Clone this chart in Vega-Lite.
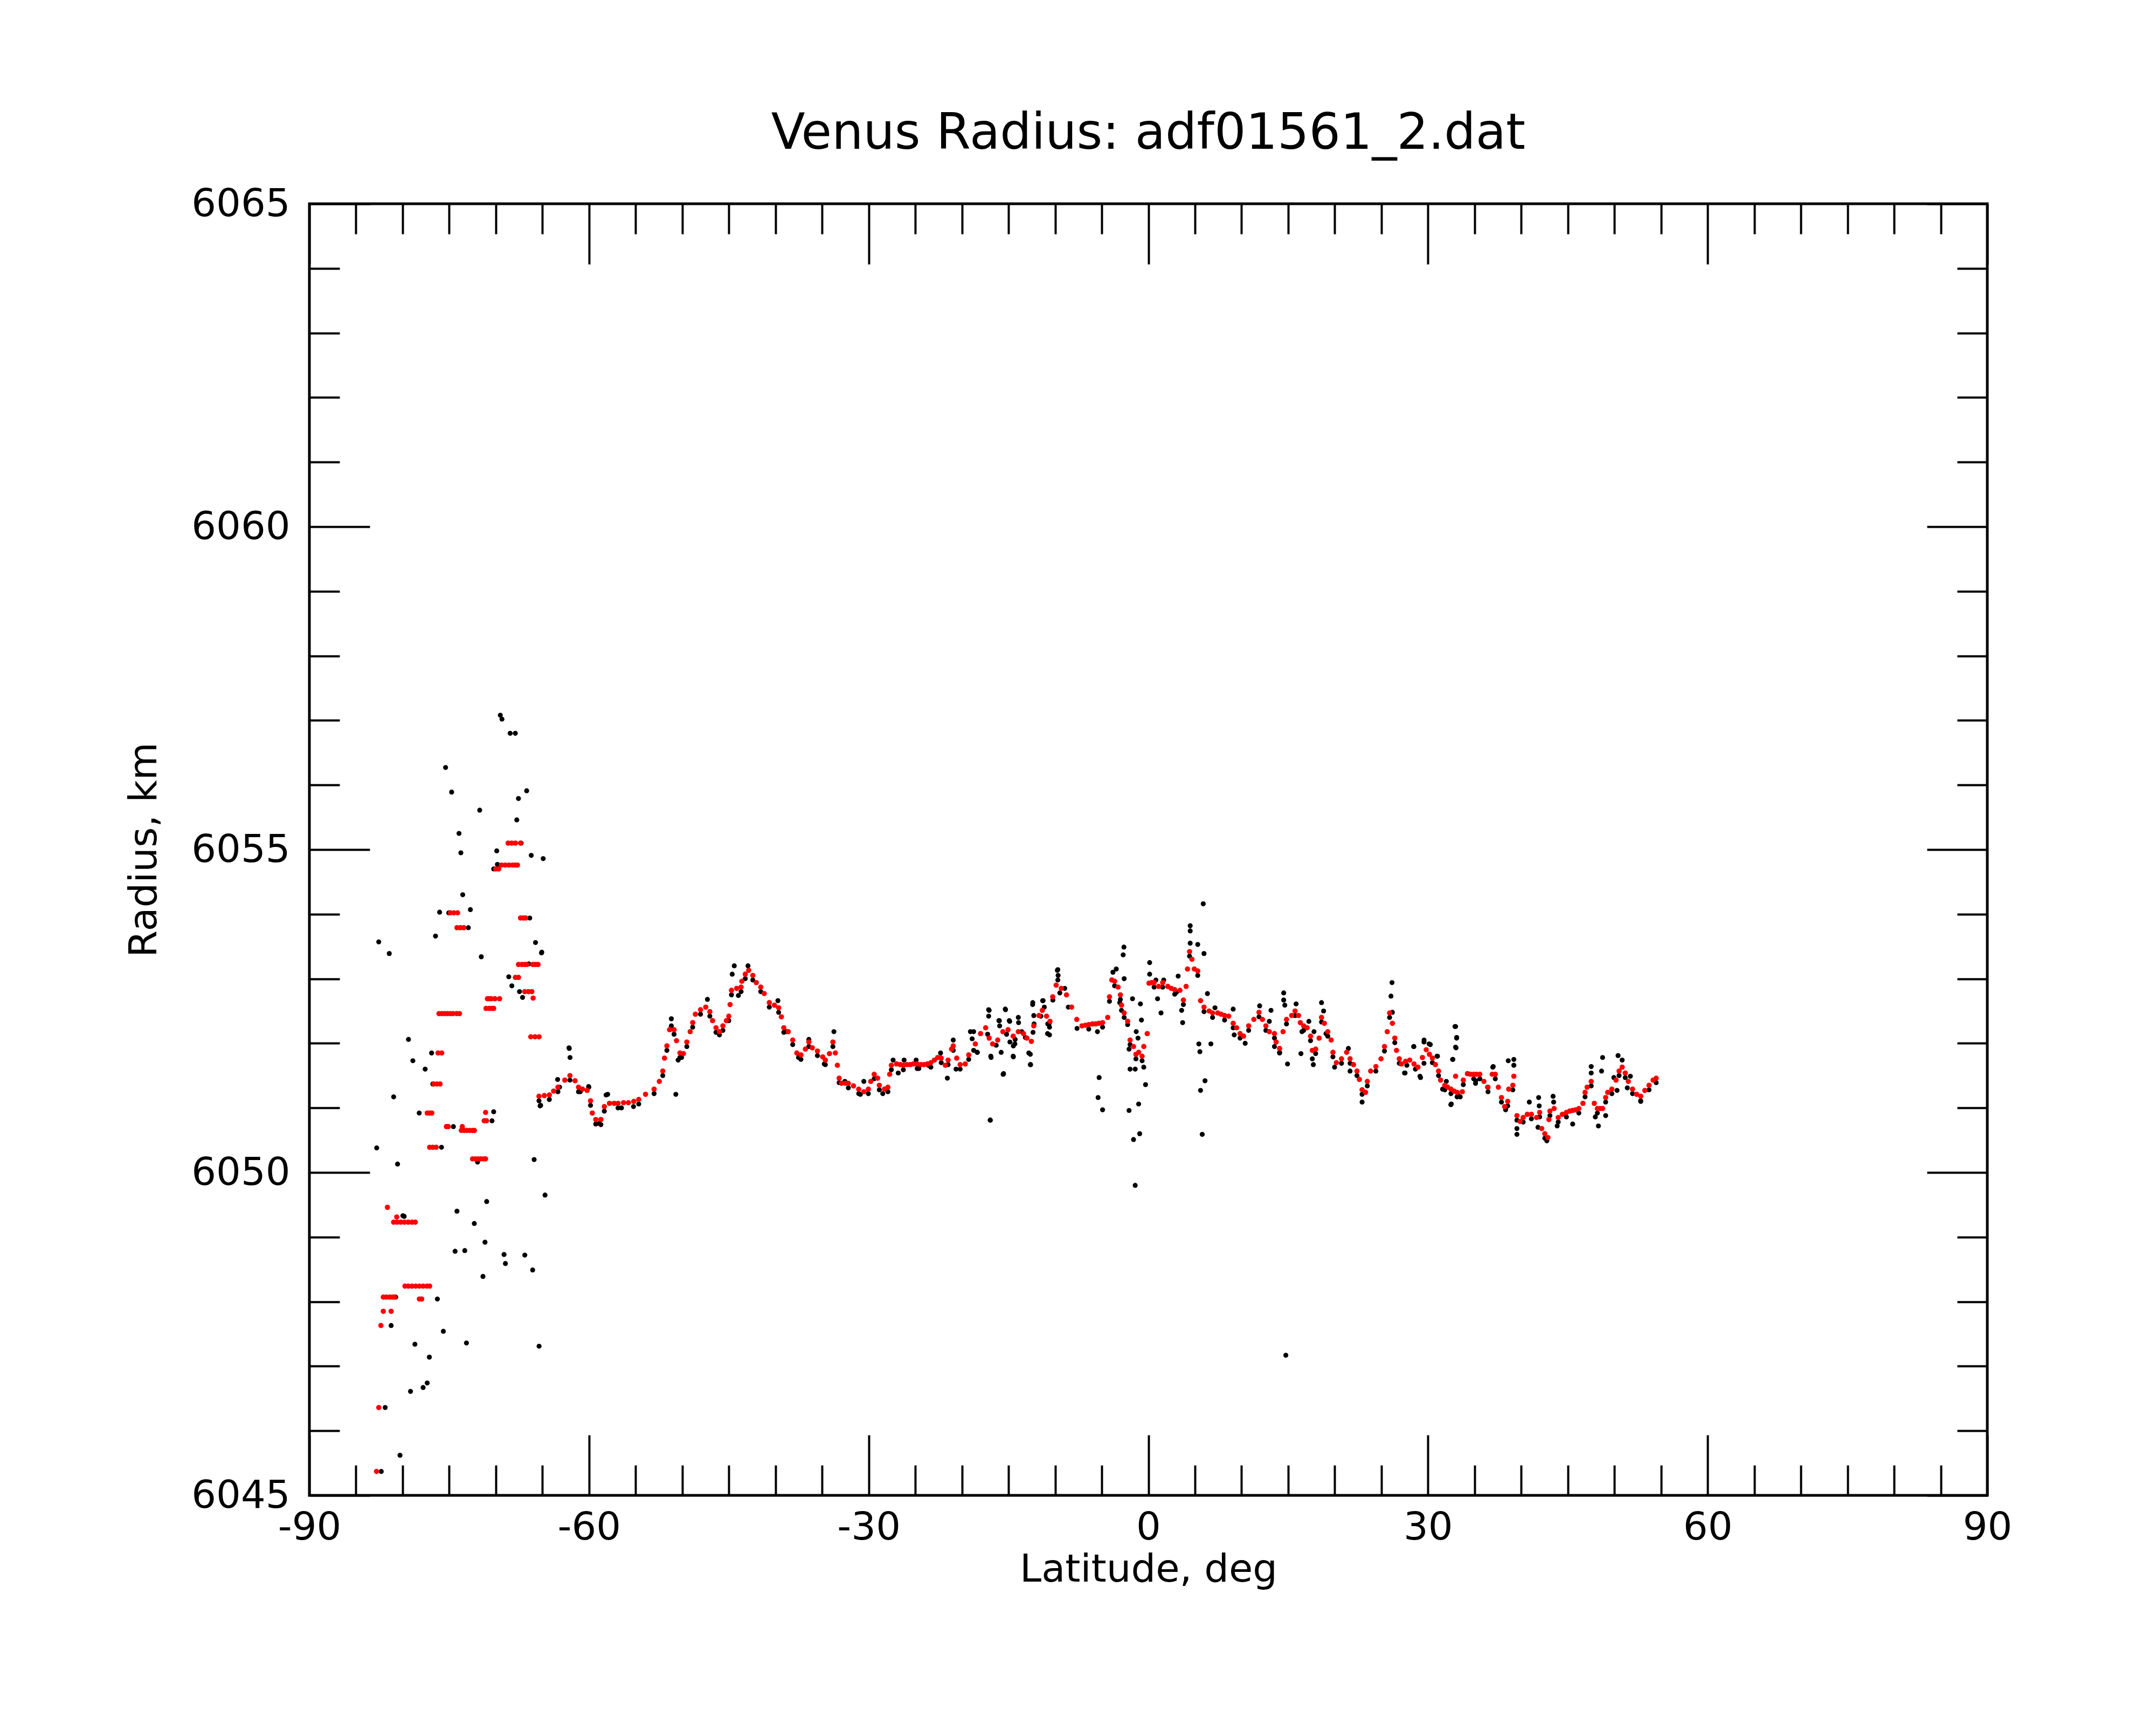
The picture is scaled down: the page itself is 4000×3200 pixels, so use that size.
{
 "$schema": "https://vega.github.io/schema/vega-lite/v6.json",
 "width": 3113,
 "height": 2396,
 "autosize": "none",
 "padding": {"left": 574, "top": 378, "right": 313, "bottom": 426},
 "background": "white",
 "config": {"view": {"stroke": "black", "strokeWidth": 5}, "font": "DejaVu Sans"},
 "title": {"text": "Venus Radius: adf01561_2.dat", "fontSize": 92, "fontWeight": "normal", "font": "DejaVu Sans", "color": "black", "offset": 47, "anchor": "middle"},
 "datasets": {
  "raw": [
   {"lat": -69.52, "r": 6057.08}, {"lat": -69.34, "r": 6057.02}, {"lat": -68.46, "r": 6056.8}, {"lat": -67.91, "r": 6056.8},
   {"lat": -75.39, "r": 6056.27}, {"lat": -74.74, "r": 6055.89}, {"lat": -66.69, "r": 6055.91}, {"lat": -67.57, "r": 6055.79},
   {"lat": -71.73, "r": 6055.61}, {"lat": -67.75, "r": 6055.46}, {"lat": -73.95, "r": 6055.25}, {"lat": -73.75, "r": 6054.95},
   {"lat": -69.9, "r": 6054.98}, {"lat": -66.2, "r": 6054.91}, {"lat": -64.92, "r": 6054.86}, {"lat": -70.23, "r": 6054.7},
   {"lat": -69.83, "r": 6054.77}, {"lat": -73.55, "r": 6054.3}, {"lat": -72.73, "r": 6054.07}, {"lat": -76.03, "r": 6054.03},
   {"lat": -75.05, "r": 6054.02}, {"lat": -72.95, "r": 6053.79}, {"lat": -66.36, "r": 6053.94}, {"lat": -76.47, "r": 6053.66},
   {"lat": -82.56, "r": 6053.57}, {"lat": -81.43, "r": 6053.39}, {"lat": -71.56, "r": 6053.34}, {"lat": -65.74, "r": 6053.56},
   {"lat": -65.1, "r": 6053.4}, {"lat": -68.61, "r": 6053.03}, {"lat": -68.28, "r": 6052.89}, {"lat": -67.46, "r": 6052.8},
   {"lat": -67.13, "r": 6052.71}, {"lat": -66.47, "r": 6053.23}, {"lat": -70.72, "r": 6052.69}, {"lat": -79.37, "r": 6052.06},
   {"lat": -78.9, "r": 6051.73}, {"lat": -77.58, "r": 6051.6}, {"lat": -76.89, "r": 6051.85}, {"lat": -76.76, "r": 6051.37},
   {"lat": -80.96, "r": 6051.17}, {"lat": -78.22, "r": 6050.92}, {"lat": -74.55, "r": 6050.71}, {"lat": -75.83, "r": 6050.39},
   {"lat": -82.78, "r": 6050.38}, {"lat": -80.54, "r": 6050.13}, {"lat": -71.96, "r": 6050.16}, {"lat": -70.23, "r": 6050.94},
   {"lat": -70.41, "r": 6050.8}, {"lat": -65.89, "r": 6050.2}, {"lat": -64.72, "r": 6049.65}, {"lat": -70.98, "r": 6049.55},
   {"lat": -74.17, "r": 6049.4}, {"lat": -72.31, "r": 6049.21}, {"lat": -79.83, "r": 6049.32}, {"lat": -79.97, "r": 6049.33},
   {"lat": -71.16, "r": 6048.92}, {"lat": -74.37, "r": 6048.78}, {"lat": -73.33, "r": 6048.79}, {"lat": -69.12, "r": 6048.73},
   {"lat": -68.97, "r": 6048.59}, {"lat": -66.89, "r": 6048.72}, {"lat": -66.05, "r": 6048.49}, {"lat": -71.38, "r": 6048.39},
   {"lat": -80.74, "r": 6048.07}, {"lat": -76.27, "r": 6048.04}, {"lat": -81.23, "r": 6047.63}, {"lat": -75.63, "r": 6047.54},
   {"lat": -78.68, "r": 6047.34}, {"lat": -73.15, "r": 6047.36}, {"lat": -65.36, "r": 6047.31}, {"lat": -77.13, "r": 6047.14},
   {"lat": -77.36, "r": 6046.74}, {"lat": -77.8, "r": 6046.67}, {"lat": -79.15, "r": 6046.61}, {"lat": -81.87, "r": 6046.36},
   {"lat": -80.28, "r": 6045.62}, {"lat": -82.29, "r": 6045.37}, {"lat": -67.28, "r": 6055.1}, {"lat": -70.7, "r": 6052.69},
   {"lat": -62.15, "r": 6051.93}, {"lat": -62.04, "r": 6051.78}, {"lat": -65.25, "r": 6051.03}, {"lat": -63.37, "r": 6051.44},
   {"lat": -60.05, "r": 6051.33}, {"lat": -58.9, "r": 6050.76}, {"lat": -58.17, "r": 6051.2}, {"lat": -60.94, "r": 6051.25},
   {"lat": -65.07, "r": 6053.41}, {"lat": -62.12, "r": 6051.92}, {"lat": -63.16, "r": 6051.32}, {"lat": -64.26, "r": 6051.13},
   {"lat": -65.19, "r": 6051.04}, {"lat": -60.02, "r": 6051.32}, {"lat": -58.73, "r": 6050.74}, {"lat": -58.0, "r": 6051.21},
   {"lat": -56.52, "r": 6051.0}, {"lat": -55.23, "r": 6051.02}, {"lat": -50.69, "r": 6051.21}, {"lat": -51.17, "r": 6052.38},
   {"lat": -51.17, "r": 6052.27}, {"lat": -50.44, "r": 6051.74}, {"lat": -50.07, "r": 6051.78}, {"lat": -47.3, "r": 6052.68},
   {"lat": -46.01, "r": 6052.13}, {"lat": -44.42, "r": 6053.2}, {"lat": -44.64, "r": 6053.07}, {"lat": -42.95, "r": 6053.2},
   {"lat": -43.98, "r": 6052.74}, {"lat": -39.74, "r": 6052.66}, {"lat": -38.82, "r": 6052.18}, {"lat": -37.53, "r": 6051.78},
   {"lat": -36.42, "r": 6052.06}, {"lat": -34.76, "r": 6051.68}, {"lat": -33.73, "r": 6052.18}, {"lat": -32.55, "r": 6051.41},
   {"lat": -30.89, "r": 6051.21}, {"lat": -30.52, "r": 6051.41}, {"lat": -28.49, "r": 6051.22}, {"lat": -27.38, "r": 6051.74},
   {"lat": -26.83, "r": 6051.54}, {"lat": -26.2, "r": 6051.74}, {"lat": -24.91, "r": 6051.74}, {"lat": -24.62, "r": 6051.61},
   {"lat": -23.59, "r": 6051.66}, {"lat": -22.29, "r": 6051.85}, {"lat": -21.56, "r": 6051.46}, {"lat": -20.93, "r": 6052.05},
   {"lat": -20.63, "r": 6051.6}, {"lat": -19.09, "r": 6052.18}, {"lat": -18.9, "r": 6052.07}, {"lat": -18.35, "r": 6051.86},
   {"lat": -17.13, "r": 6052.52}, {"lat": -17.13, "r": 6052.42}, {"lat": -16.95, "r": 6050.81}, {"lat": -16.87, "r": 6051.78},
   {"lat": -16.03, "r": 6052.35}, {"lat": -15.95, "r": 6052.27}, {"lat": -15.58, "r": 6051.52}, {"lat": -15.32, "r": 6052.52},
   {"lat": -14.92, "r": 6052.35}, {"lat": -14.85, "r": 6052.02}, {"lat": -14.48, "r": 6051.96}, {"lat": -14.48, "r": 6051.79},
   {"lat": -13.92, "r": 6052.32}, {"lat": -12.82, "r": 6051.85}, {"lat": -12.63, "r": 6051.67}, {"lat": -12.41, "r": 6052.6},
   {"lat": -12.26, "r": 6052.3}, {"lat": -11.34, "r": 6052.66}, {"lat": -11.16, "r": 6052.56}, {"lat": -10.79, "r": 6052.3},
   {"lat": -10.6, "r": 6052.13}, {"lat": -9.76, "r": 6053.13}, {"lat": -9.68, "r": 6053.05},
   {"lat": -18.74, "r": 6052.18}, {"lat": -18.74, "r": 6051.89}, {"lat": -17.08, "r": 6052.51}, {"lat": -16.97, "r": 6050.81},
   {"lat": -16.9, "r": 6051.8}, {"lat": -15.98, "r": 6052.35}, {"lat": -15.79, "r": 6051.86}, {"lat": -15.53, "r": 6051.53},
   {"lat": -15.35, "r": 6052.53}, {"lat": -14.87, "r": 6052.34}, {"lat": -14.5, "r": 6051.8}, {"lat": -14.32, "r": 6051.99},
   {"lat": -13.95, "r": 6052.4}, {"lat": -13.58, "r": 6052.18}, {"lat": -12.66, "r": 6051.83}, {"lat": -12.66, "r": 6051.67},
   {"lat": -12.4, "r": 6052.63}, {"lat": -12.29, "r": 6052.43}, {"lat": -11.29, "r": 6052.66}, {"lat": -10.81, "r": 6052.15},
   {"lat": -10.63, "r": 6052.31}, {"lat": -9.71, "r": 6053.14}, {"lat": -9.71, "r": 6052.98}, {"lat": -8.97, "r": 6052.85},
   {"lat": -5.46, "r": 6052.18}, {"lat": -5.28, "r": 6051.47}, {"lat": -5.39, "r": 6051.16}, {"lat": -4.91, "r": 6050.97},
   {"lat": -3.8, "r": 6053.1}, {"lat": -3.44, "r": 6053.15}, {"lat": -2.62, "r": 6053.49}, {"lat": -2.7, "r": 6053.37},
   {"lat": -2.59, "r": 6053.0}, {"lat": -3.07, "r": 6052.63}, {"lat": -2.88, "r": 6052.51}, {"lat": -2.22, "r": 6052.29},
   {"lat": -1.7, "r": 6052.69}, {"lat": -0.85, "r": 6052.61}, {"lat": -0.74, "r": 6052.36}, {"lat": -1.3, "r": 6052.18},
   {"lat": -1.11, "r": 6052.08}, {"lat": -2.07, "r": 6051.91}, {"lat": -1.96, "r": 6051.6}, {"lat": -1.41, "r": 6051.6},
   {"lat": -0.49, "r": 6051.63}, {"lat": -0.3, "r": 6051.36}, {"lat": -2.07, "r": 6050.96}, {"lat": -1.04, "r": 6051.06},
   {"lat": -0.93, "r": 6050.6}, {"lat": -1.59, "r": 6050.51}, {"lat": -1.41, "r": 6049.8}, {"lat": 0.14, "r": 6053.25},
   {"lat": 0.14, "r": 6053.07}, {"lat": 0.81, "r": 6052.98}, {"lat": 0.99, "r": 6052.69}, {"lat": 1.36, "r": 6052.47},
   {"lat": 1.65, "r": 6052.98}, {"lat": 3.02, "r": 6052.79}, {"lat": 3.2, "r": 6053.04}, {"lat": 3.57, "r": 6052.51},
   {"lat": 3.68, "r": 6052.32}, {"lat": 4.49, "r": 6053.82}, {"lat": 4.49, "r": 6053.74}, {"lat": 4.49, "r": 6053.55},
   {"lat": 5.3, "r": 6053.53}, {"lat": 5.89, "r": 6054.16}, {"lat": 5.97, "r": 6053.39}, {"lat": 5.42, "r": 6051.99},
   {"lat": 5.53, "r": 6051.87}, {"lat": 5.6, "r": 6051.27}, {"lat": 6.08, "r": 6051.42}, {"lat": 5.78, "r": 6050.59},
   {"lat": 6.34, "r": 6052.77}, {"lat": 6.71, "r": 6051.99}, {"lat": 7.15, "r": 6052.55}, {"lat": 9.1, "r": 6052.53},
   {"lat": 9.21, "r": 6052.13}, {"lat": 10.39, "r": 6052.0}, {"lat": 11.94, "r": 6052.58}, {"lat": 13.16, "r": 6052.51},
   {"lat": 12.98, "r": 6052.34}, {"lat": 13.53, "r": 6051.95}, {"lat": 14.08, "r": 6051.86}, {"lat": 14.52, "r": 6052.78},
   {"lat": 14.52, "r": 6052.67}, {"lat": 14.64, "r": 6052.59}, {"lat": 14.93, "r": 6051.68}, {"lat": 15.85, "r": 6052.61},
   {"lat": 16.37, "r": 6051.84}, {"lat": 16.48, "r": 6052.18}, {"lat": 17.22, "r": 6052.34}, {"lat": 17.59, "r": 6051.76},
   {"lat": 17.7, "r": 6051.67}, {"lat": 17.77, "r": 6052.18}, {"lat": 18.58, "r": 6052.63}, {"lat": 18.8, "r": 6052.5},
   {"lat": 19.06, "r": 6052.15}, {"lat": 19.98, "r": 6051.63}, {"lat": 21.46, "r": 6051.92}, {"lat": 21.64, "r": 6051.57},
   {"lat": 22.93, "r": 6051.09}, {"lat": 26.14, "r": 6052.94}, {"lat": 26.03, "r": 6052.73}, {"lat": 26.18, "r": 6052.48},
   {"lat": 27.54, "r": 6051.54}, {"lat": 28.47, "r": 6051.95}, {"lat": 29.57, "r": 6052.02}, {"lat": 30.12, "r": 6051.99},
   {"lat": 29.2, "r": 6051.47}, {"lat": 30.97, "r": 6051.8}, {"lat": 31.97, "r": 6051.41}, {"lat": 32.45, "r": 6051.05},
   {"lat": 32.67, "r": 6051.75}, {"lat": 32.96, "r": 6052.26}, {"lat": 33.07, "r": 6052.08}, {"lat": 32.96, "r": 6051.94},
   {"lat": 33.26, "r": 6051.19}, {"lat": 35.1, "r": 6051.38}, {"lat": 36.39, "r": 6051.32}, {"lat": 36.95, "r": 6051.63},
   {"lat": 38.61, "r": 6051.73}, {"lat": 14.75, "r": 6047.17},
   {"lat": 28.48, "r": 6051.95}, {"lat": 29.58, "r": 6052.05}, {"lat": 30.25, "r": 6051.98}, {"lat": 31.02, "r": 6051.8},
   {"lat": 27.48, "r": 6051.54}, {"lat": 29.14, "r": 6051.49}, {"lat": 32.9, "r": 6052.26}, {"lat": 33.08, "r": 6052.09},
   {"lat": 33.01, "r": 6051.93}, {"lat": 32.64, "r": 6051.75}, {"lat": 32.5, "r": 6051.06}, {"lat": 31.57, "r": 6051.29},
   {"lat": 33.46, "r": 6051.17}, {"lat": 35.12, "r": 6051.42}, {"lat": 37.0, "r": 6051.64}, {"lat": 39.21, "r": 6051.75},
   {"lat": 39.21, "r": 6051.66}, {"lat": 38.33, "r": 6050.97}, {"lat": 39.54, "r": 6050.59}, {"lat": 39.54, "r": 6050.68},
   {"lat": 40.87, "r": 6051.09}, {"lat": 41.87, "r": 6051.16}, {"lat": 41.93, "r": 6051.03}, {"lat": 41.8, "r": 6050.7},
   {"lat": 42.75, "r": 6050.49}, {"lat": 43.42, "r": 6051.18}, {"lat": 43.48, "r": 6051.09}, {"lat": 43.86, "r": 6050.72},
   {"lat": 45.52, "r": 6050.75}, {"lat": 47.51, "r": 6051.64}, {"lat": 47.51, "r": 6051.54}, {"lat": 48.73, "r": 6051.78},
   {"lat": 48.62, "r": 6051.57}, {"lat": 47.95, "r": 6050.86}, {"lat": 48.28, "r": 6050.72}, {"lat": 49.06, "r": 6050.88},
   {"lat": 50.39, "r": 6051.81}, {"lat": 50.83, "r": 6051.74}, {"lat": 49.94, "r": 6051.47}, {"lat": 50.28, "r": 6051.27},
   {"lat": 51.38, "r": 6051.31}, {"lat": 51.71, "r": 6051.49}, {"lat": 52.82, "r": 6051.1},
   {"lat": -65.37, "r": 6051.11}, {"lat": -63.34, "r": 6051.25}, {"lat": -62.05, "r": 6051.43}, {"lat": -61.13, "r": 6051.25},
   {"lat": -59.84, "r": 6051.04}, {"lat": -59.28, "r": 6050.75}, {"lat": -58.36, "r": 6050.95}, {"lat": -56.89, "r": 6051.0},
   {"lat": -54.67, "r": 6051.06}, {"lat": -53.02, "r": 6051.22}, {"lat": -52.09, "r": 6051.5}, {"lat": -51.65, "r": 6051.89},
   {"lat": -50.88, "r": 6052.14}, {"lat": -50.25, "r": 6051.78}, {"lat": -49.51, "r": 6051.95}, {"lat": -48.88, "r": 6052.25},
   {"lat": -48.04, "r": 6052.45}, {"lat": -47.04, "r": 6052.42}, {"lat": -46.38, "r": 6052.17}, {"lat": -45.64, "r": 6052.2},
   {"lat": -45.01, "r": 6052.35}, {"lat": -44.72, "r": 6052.75}, {"lat": -43.69, "r": 6052.8}, {"lat": -43.24, "r": 6053.0},
   {"lat": -42.43, "r": 6052.98}, {"lat": -41.58, "r": 6052.8}, {"lat": -40.66, "r": 6052.56}, {"lat": -39.66, "r": 6052.48},
   {"lat": -39.11, "r": 6052.17}, {"lat": -38.15, "r": 6051.98}, {"lat": -37.27, "r": 6051.75}, {"lat": -36.42, "r": 6051.95},
   {"lat": -35.5, "r": 6051.81}, {"lat": -34.65, "r": 6051.67}, {"lat": -33.84, "r": 6051.95}, {"lat": -33.17, "r": 6051.39},
   {"lat": -32.18, "r": 6051.31}, {"lat": -31.07, "r": 6051.22}, {"lat": -30.04, "r": 6051.22}, {"lat": -29.41, "r": 6051.45},
   {"lat": -28.86, "r": 6051.28}, {"lat": -27.94, "r": 6051.25}, {"lat": -27.57, "r": 6051.59}, {"lat": -26.28, "r": 6051.59},
   {"lat": -24.8, "r": 6051.61}, {"lat": -23.33, "r": 6051.63}, {"lat": -22.22, "r": 6051.7}, {"lat": -21.48, "r": 6051.67},
   {"lat": -20.93, "r": 6051.89}, {"lat": -20.19, "r": 6051.6}, {"lat": -19.27, "r": 6051.75}, {"lat": -18.35, "r": 6051.86},
   {"lat": -17.24, "r": 6052.14}, {"lat": -16.32, "r": 6051.97}, {"lat": -15.21, "r": 6052.14}, {"lat": -14.29, "r": 6052.06},
   {"lat": -13.19, "r": 6052.09}, {"lat": -12.37, "r": 6052.17}, {"lat": -11.53, "r": 6052.42}, {"lat": -10.6, "r": 6052.25},
   {"lat": -10.24, "r": 6052.67}, {"lat": -9.5, "r": 6052.78}, {"lat": -8.58, "r": 6052.56}, {"lat": -7.65, "r": 6052.23},
   {"lat": -6.39, "r": 6052.22}, {"lat": -4.91, "r": 6052.25}, {"lat": -4.17, "r": 6052.65}, {"lat": -3.62, "r": 6052.89},
   {"lat": -3.0, "r": 6052.68}, {"lat": -2.59, "r": 6052.4}, {"lat": -1.96, "r": 6051.98}, {"lat": -1.33, "r": 6051.76},
   {"lat": -0.67, "r": 6051.73}, {"lat": 0.62, "r": 6052.87}, {"lat": 1.54, "r": 6052.87}, {"lat": 2.83, "r": 6052.76},
   {"lat": 3.76, "r": 6052.6}, {"lat": 4.42, "r": 6053.35}, {"lat": 5.3, "r": 6053.05}, {"lat": 5.97, "r": 6052.49},
   {"lat": 6.89, "r": 6052.4}, {"lat": 8.18, "r": 6052.36}, {"lat": 9.1, "r": 6052.24}, {"lat": 9.84, "r": 6052.08},
   {"lat": 10.76, "r": 6052.2}, {"lat": 11.87, "r": 6052.41}, {"lat": 12.61, "r": 6052.2}, {"lat": 13.53, "r": 6052.08},
   {"lat": 14.08, "r": 6051.85}, {"lat": 14.82, "r": 6052.3}, {"lat": 15.74, "r": 6052.43}, {"lat": 16.66, "r": 6052.2},
   {"lat": 17.4, "r": 6052.04}, {"lat": 17.95, "r": 6051.84}, {"lat": 18.58, "r": 6052.33}, {"lat": 19.25, "r": 6052.11},
   {"lat": 19.8, "r": 6051.79}, {"lat": 20.72, "r": 6051.69}, {"lat": 21.64, "r": 6051.69}, {"lat": 22.38, "r": 6051.5},
   {"lat": 22.93, "r": 6051.21}, {"lat": 23.49, "r": 6051.34}, {"lat": 24.41, "r": 6051.57}, {"lat": 25.33, "r": 6051.88},
   {"lat": 25.88, "r": 6052.4}, {"lat": 26.44, "r": 6052.01}, {"lat": 26.92, "r": 6051.69}, {"lat": 27.73, "r": 6051.66},
   {"lat": 28.65, "r": 6051.6}, {"lat": 29.57, "r": 6051.69}, {"lat": 30.47, "r": 6051.7}, {"lat": 31.13, "r": 6051.5},
   {"lat": 31.8, "r": 6051.28}, {"lat": 32.46, "r": 6051.22}, {"lat": 33.12, "r": 6051.17}, {"lat": 33.79, "r": 6051.36},
   {"lat": 34.9, "r": 6051.45}, {"lat": 35.56, "r": 6051.45}, {"lat": 36.44, "r": 6051.25}, {"lat": 37.22, "r": 6051.45},
   {"lat": 37.88, "r": 6051.09}, {"lat": 38.55, "r": 6051.03}, {"lat": 39.1, "r": 6051.28}, {"lat": 39.54, "r": 6050.81},
   {"lat": 40.21, "r": 6050.78}, {"lat": 41.09, "r": 6050.83}, {"lat": 41.98, "r": 6050.86}, {"lat": 42.53, "r": 6050.53},
   {"lat": 43.08, "r": 6050.88}, {"lat": 43.97, "r": 6050.78}, {"lat": 44.85, "r": 6050.86}, {"lat": 46.18, "r": 6050.92},
   {"lat": 46.85, "r": 6051.17}, {"lat": 47.51, "r": 6051.34}, {"lat": 48.17, "r": 6050.92}, {"lat": 49.06, "r": 6051.09},
   {"lat": 49.72, "r": 6051.22}, {"lat": 50.5, "r": 6051.5}, {"lat": 51.16, "r": 6051.47}, {"lat": 51.94, "r": 6051.22},
   {"lat": 52.82, "r": 6051.11}, {"lat": 53.71, "r": 6051.28}, {"lat": 54.48, "r": 6051.39}
  ],
  "smooth": [
   {"lat": -82.8, "r": 6045.37}, {"lat": -82.56, "r": 6046.36}, {"lat": -82.33, "r": 6047.63}, {"lat": -82.07, "r": 6047.85},
   {"lat": -82.07, "r": 6048.07}, {"lat": -81.75, "r": 6048.07}, {"lat": -81.4, "r": 6048.07}, {"lat": -81.1, "r": 6048.07},
   {"lat": -80.85, "r": 6048.07}, {"lat": -81.23, "r": 6047.85}, {"lat": -81.63, "r": 6049.46}, {"lat": -80.96, "r": 6049.23},
   {"lat": -80.63, "r": 6049.31}, {"lat": -80.6, "r": 6049.23}, {"lat": -80.2, "r": 6049.23}, {"lat": -79.8, "r": 6049.23},
   {"lat": -79.4, "r": 6049.23}, {"lat": -79.0, "r": 6049.23}, {"lat": -78.64, "r": 6049.23}, {"lat": -79.75, "r": 6048.24},
   {"lat": -79.4, "r": 6048.24}, {"lat": -79.0, "r": 6048.24}, {"lat": -78.6, "r": 6048.24}, {"lat": -78.2, "r": 6048.24},
   {"lat": -77.8, "r": 6048.24}, {"lat": -77.4, "r": 6048.24}, {"lat": -77.1, "r": 6048.24}, {"lat": -78.2, "r": 6048.04},
   {"lat": -77.95, "r": 6048.04}, {"lat": -77.36, "r": 6050.92}, {"lat": -77.1, "r": 6050.92}, {"lat": -76.87, "r": 6050.92},
   {"lat": -77.1, "r": 6050.39}, {"lat": -76.75, "r": 6050.39}, {"lat": -76.4, "r": 6050.39}, {"lat": -76.65, "r": 6051.37},
   {"lat": -76.3, "r": 6051.37}, {"lat": -75.98, "r": 6051.37}, {"lat": -76.2, "r": 6051.85}, {"lat": -75.8, "r": 6051.85},
   {"lat": -76.1, "r": 6052.46}, {"lat": -75.8, "r": 6052.46}, {"lat": -75.5, "r": 6052.46}, {"lat": -75.2, "r": 6052.46},
   {"lat": -74.9, "r": 6052.46}, {"lat": -74.6, "r": 6052.46}, {"lat": -74.2, "r": 6052.46}, {"lat": -73.9, "r": 6052.46},
   {"lat": -75.3, "r": 6050.71}, {"lat": -75.1, "r": 6050.71}, {"lat": -74.88, "r": 6054.02}, {"lat": -74.5, "r": 6054.02},
   {"lat": -74.1, "r": 6054.02}, {"lat": -74.17, "r": 6053.79}, {"lat": -73.8, "r": 6053.79}, {"lat": -73.44, "r": 6053.79},
   {"lat": -73.7, "r": 6050.65}, {"lat": -73.4, "r": 6050.65}, {"lat": -73.1, "r": 6050.65}, {"lat": -72.8, "r": 6050.65},
   {"lat": -72.5, "r": 6050.65}, {"lat": -72.3, "r": 6050.65}, {"lat": -73.6, "r": 6050.71}, {"lat": -72.5, "r": 6050.21},
   {"lat": -72.2, "r": 6050.21}, {"lat": -71.9, "r": 6050.21}, {"lat": -71.6, "r": 6050.21}, {"lat": -71.3, "r": 6050.21},
   {"lat": -71.1, "r": 6050.21}, {"lat": -71.25, "r": 6050.8}, {"lat": -71.0, "r": 6050.8}, {"lat": -71.1, "r": 6050.93},
   {"lat": -71.05, "r": 6052.54}, {"lat": -70.7, "r": 6052.54}, {"lat": -70.4, "r": 6052.54}, {"lat": -70.23, "r": 6052.54},
   {"lat": -70.9, "r": 6052.69}, {"lat": -70.5, "r": 6052.69}, {"lat": -70.1, "r": 6052.69}, {"lat": -69.6, "r": 6052.69},
   {"lat": -70.01, "r": 6054.7}, {"lat": -69.7, "r": 6054.7}, {"lat": -69.4, "r": 6054.76}, {"lat": -69.0, "r": 6054.76},
   {"lat": -68.6, "r": 6054.76}, {"lat": -68.2, "r": 6054.76}, {"lat": -67.9, "r": 6054.76}, {"lat": -67.68, "r": 6054.76},
   {"lat": -68.68, "r": 6055.1}, {"lat": -68.3, "r": 6055.1}, {"lat": -67.9, "r": 6055.1}, {"lat": -67.35, "r": 6055.1},
   {"lat": -67.9, "r": 6053.02}, {"lat": -67.57, "r": 6053.02}, {"lat": -67.57, "r": 6053.22}, {"lat": -67.2, "r": 6053.22},
   {"lat": -66.9, "r": 6053.22}, {"lat": -66.69, "r": 6053.22}, {"lat": -66.03, "r": 6053.22}, {"lat": -65.75, "r": 6053.22},
   {"lat": -65.47, "r": 6053.22}, {"lat": -67.35, "r": 6053.94}, {"lat": -67.05, "r": 6053.94}, {"lat": -66.8, "r": 6053.94},
   {"lat": -66.9, "r": 6052.8}, {"lat": -66.5, "r": 6052.8}, {"lat": -66.14, "r": 6052.8}, {"lat": -66.0, "r": 6052.7},
   {"lat": -66.25, "r": 6052.1}, {"lat": -65.8, "r": 6052.1}, {"lat": -65.36, "r": 6052.1},
   {"lat": -65.37, "r": 6051.18}, {"lat": -64.8, "r": 6051.19}, {"lat": -64.26, "r": 6051.2}, {"lat": -63.8, "r": 6051.26},
   {"lat": -63.34, "r": 6051.32}, {"lat": -62.6, "r": 6051.43}, {"lat": -62.05, "r": 6051.5}, {"lat": -61.5, "r": 6051.42},
   {"lat": -61.13, "r": 6051.32}, {"lat": -60.7, "r": 6051.29}, {"lat": -60.21, "r": 6051.27}, {"lat": -59.84, "r": 6051.11},
   {"lat": -59.65, "r": 6050.92}, {"lat": -59.28, "r": 6050.82}, {"lat": -58.73, "r": 6050.82}, {"lat": -58.36, "r": 6051.02},
   {"lat": -57.81, "r": 6051.07}, {"lat": -57.3, "r": 6051.07}, {"lat": -56.89, "r": 6051.07}, {"lat": -56.3, "r": 6051.08},
   {"lat": -55.78, "r": 6051.08}, {"lat": -55.2, "r": 6051.1}, {"lat": -54.67, "r": 6051.13}, {"lat": -53.94, "r": 6051.21},
   {"lat": -53.02, "r": 6051.29}, {"lat": -52.46, "r": 6051.41}, {"lat": -52.09, "r": 6051.57}, {"lat": -51.91, "r": 6051.77},
   {"lat": -51.65, "r": 6051.96}, {"lat": -51.36, "r": 6052.21}, {"lat": -50.88, "r": 6052.21}, {"lat": -50.62, "r": 6052.04},
   {"lat": -50.25, "r": 6051.85}, {"lat": -49.88, "r": 6051.84}, {"lat": -49.51, "r": 6052.02}, {"lat": -49.15, "r": 6052.18},
   {"lat": -48.88, "r": 6052.32}, {"lat": -48.59, "r": 6052.45}, {"lat": -48.04, "r": 6052.52}, {"lat": -47.48, "r": 6052.56},
   {"lat": -47.04, "r": 6052.49}, {"lat": -46.75, "r": 6052.35}, {"lat": -46.38, "r": 6052.24}, {"lat": -46.01, "r": 6052.18},
   {"lat": -45.64, "r": 6052.27}, {"lat": -45.27, "r": 6052.35}, {"lat": -45.01, "r": 6052.42}, {"lat": -44.87, "r": 6052.6},
   {"lat": -44.72, "r": 6052.82}, {"lat": -44.16, "r": 6052.85}, {"lat": -43.69, "r": 6052.87}, {"lat": -43.61, "r": 6052.96},
   {"lat": -43.24, "r": 6053.07}, {"lat": -42.87, "r": 6053.13}, {"lat": -42.43, "r": 6053.05}, {"lat": -42.06, "r": 6052.94},
   {"lat": -41.58, "r": 6052.87}, {"lat": -41.21, "r": 6052.77}, {"lat": -40.66, "r": 6052.63}, {"lat": -40.11, "r": 6052.59},
   {"lat": -39.66, "r": 6052.55}, {"lat": -39.37, "r": 6052.41}, {"lat": -39.11, "r": 6052.24}, {"lat": -38.63, "r": 6052.18},
   {"lat": -38.15, "r": 6052.05}, {"lat": -37.71, "r": 6051.85}, {"lat": -37.27, "r": 6051.82}, {"lat": -36.79, "r": 6051.91},
   {"lat": -36.42, "r": 6052.02}, {"lat": -36.05, "r": 6051.93}, {"lat": -35.5, "r": 6051.88}, {"lat": -34.94, "r": 6051.79},
   {"lat": -34.65, "r": 6051.74}, {"lat": -34.21, "r": 6051.84}, {"lat": -33.84, "r": 6052.02}, {"lat": -33.58, "r": 6051.85},
   {"lat": -33.36, "r": 6051.66}, {"lat": -33.17, "r": 6051.46}, {"lat": -32.92, "r": 6051.38}, {"lat": -32.5, "r": 6051.38},
   {"lat": -32.18, "r": 6051.38}, {"lat": -31.63, "r": 6051.34}, {"lat": -31.07, "r": 6051.29}, {"lat": -30.52, "r": 6051.25},
   {"lat": -30.04, "r": 6051.29}, {"lat": -29.78, "r": 6051.41}, {"lat": -29.41, "r": 6051.52}, {"lat": -29.04, "r": 6051.46},
   {"lat": -28.86, "r": 6051.35}, {"lat": -28.31, "r": 6051.29}, {"lat": -27.94, "r": 6051.32}, {"lat": -27.75, "r": 6051.52},
   {"lat": -27.57, "r": 6051.66}, {"lat": -27.01, "r": 6051.68}, {"lat": -26.6, "r": 6051.67}, {"lat": -26.28, "r": 6051.66},
   {"lat": -25.9, "r": 6051.67}, {"lat": -25.54, "r": 6051.67}, {"lat": -25.2, "r": 6051.68}, {"lat": -24.8, "r": 6051.68},
   {"lat": -24.4, "r": 6051.67}, {"lat": -24.06, "r": 6051.67}, {"lat": -23.7, "r": 6051.68}, {"lat": -23.33, "r": 6051.7},
   {"lat": -22.95, "r": 6051.74}, {"lat": -22.59, "r": 6051.78}, {"lat": -22.22, "r": 6051.77}, {"lat": -21.78, "r": 6051.66},
   {"lat": -21.48, "r": 6051.74}, {"lat": -21.11, "r": 6051.91}, {"lat": -20.93, "r": 6051.96}, {"lat": -20.56, "r": 6051.77},
   {"lat": -20.19, "r": 6051.67}, {"lat": -19.64, "r": 6051.68}, {"lat": -19.27, "r": 6051.82},
   {"lat": -18.56, "r": 6051.99}, {"lat": -18.0, "r": 6052.15}, {"lat": -17.45, "r": 6052.24}, {"lat": -17.08, "r": 6052.08},
   {"lat": -16.71, "r": 6051.99}, {"lat": -16.16, "r": 6052.05}, {"lat": -15.61, "r": 6052.18}, {"lat": -15.05, "r": 6052.21},
   {"lat": -14.5, "r": 6052.11}, {"lat": -13.95, "r": 6052.18}, {"lat": -13.39, "r": 6052.15}, {"lat": -13.03, "r": 6052.08},
   {"lat": -12.55, "r": 6052.03}, {"lat": -12.29, "r": 6052.27}, {"lat": -11.73, "r": 6052.43}, {"lat": -11.37, "r": 6052.51},
   {"lat": -10.92, "r": 6052.42}, {"lat": -10.55, "r": 6052.34}, {"lat": -10.26, "r": 6052.72}, {"lat": -9.89, "r": 6052.9},
   {"lat": -9.34, "r": 6052.85}, {"lat": -8.78, "r": 6052.75}, {"lat": -8.23, "r": 6052.56}, {"lat": -7.68, "r": 6052.37},
   {"lat": -7.12, "r": 6052.27}, {"lat": -6.75, "r": 6052.28}, {"lat": -6.39, "r": 6052.29}, {"lat": -6.0, "r": 6052.3},
   {"lat": -5.65, "r": 6052.3}, {"lat": -5.3, "r": 6052.31}, {"lat": -4.91, "r": 6052.32}, {"lat": -4.36, "r": 6052.4},
   {"lat": -4.17, "r": 6052.72}, {"lat": -3.92, "r": 6052.98}, {"lat": -3.62, "r": 6052.96}, {"lat": -3.25, "r": 6052.87},
   {"lat": -3.0, "r": 6052.75}, {"lat": -2.88, "r": 6052.59}, {"lat": -2.59, "r": 6052.47}, {"lat": -2.22, "r": 6052.34},
   {"lat": -1.96, "r": 6052.05}, {"lat": -1.59, "r": 6051.95}, {"lat": -1.33, "r": 6051.83}, {"lat": -1.04, "r": 6051.86},
   {"lat": -0.67, "r": 6051.8}, {"lat": -0.49, "r": 6051.95}, {"lat": -0.12, "r": 6052.15}, {"lat": 0.07, "r": 6052.93},
   {"lat": 0.35, "r": 6052.94}, {"lat": 0.62, "r": 6052.94}, {"lat": 1.1, "r": 6052.88}, {"lat": 1.54, "r": 6052.94},
   {"lat": 2.09, "r": 6052.88}, {"lat": 2.45, "r": 6052.85}, {"lat": 2.83, "r": 6052.83}, {"lat": 3.39, "r": 6052.82},
   {"lat": 3.76, "r": 6052.67}, {"lat": 4.05, "r": 6052.88}, {"lat": 4.2, "r": 6053.15}, {"lat": 4.42, "r": 6053.42},
   {"lat": 4.68, "r": 6053.3}, {"lat": 4.93, "r": 6053.15}, {"lat": 5.3, "r": 6053.12}, {"lat": 5.6, "r": 6052.66},
   {"lat": 5.97, "r": 6052.56}, {"lat": 6.52, "r": 6052.5}, {"lat": 6.89, "r": 6052.47}, {"lat": 7.44, "r": 6052.47},
   {"lat": 7.8, "r": 6052.45}, {"lat": 8.18, "r": 6052.43}, {"lat": 8.62, "r": 6052.42}, {"lat": 9.1, "r": 6052.31},
   {"lat": 9.47, "r": 6052.24}, {"lat": 9.84, "r": 6052.15}, {"lat": 10.21, "r": 6052.11}, {"lat": 10.76, "r": 6052.27},
   {"lat": 11.32, "r": 6052.37}, {"lat": 11.87, "r": 6052.48}, {"lat": 12.24, "r": 6052.37}, {"lat": 12.61, "r": 6052.27},
   {"lat": 12.98, "r": 6052.18}, {"lat": 13.53, "r": 6052.15}, {"lat": 13.71, "r": 6052.02}, {"lat": 14.08, "r": 6051.92},
   {"lat": 14.45, "r": 6052.18}, {"lat": 14.82, "r": 6052.37}, {"lat": 15.37, "r": 6052.43}, {"lat": 15.74, "r": 6052.5},
   {"lat": 16.11, "r": 6052.43}, {"lat": 16.3, "r": 6052.32}, {"lat": 16.66, "r": 6052.27}, {"lat": 17.03, "r": 6052.24},
   {"lat": 17.4, "r": 6052.11}, {"lat": 17.59, "r": 6051.89}, {"lat": 17.95, "r": 6051.91}, {"lat": 18.32, "r": 6052.08},
   {"lat": 18.58, "r": 6052.4}, {"lat": 18.88, "r": 6052.31}, {"lat": 19.25, "r": 6052.18}, {"lat": 19.61, "r": 6052.05},
   {"lat": 19.8, "r": 6051.86}, {"lat": 20.17, "r": 6051.7}, {"lat": 20.72, "r": 6051.76}, {"lat": 21.27, "r": 6051.86},
   {"lat": 21.64, "r": 6051.76}, {"lat": 22.01, "r": 6051.67}, {"lat": 22.38, "r": 6051.57}, {"lat": 22.64, "r": 6051.44},
   {"lat": 22.93, "r": 6051.28}, {"lat": 23.3, "r": 6051.24}, {"lat": 23.49, "r": 6051.41}, {"lat": 23.85, "r": 6051.57},
   {"lat": 24.41, "r": 6051.64}, {"lat": 24.96, "r": 6051.76}, {"lat": 25.33, "r": 6051.95}, {"lat": 25.63, "r": 6052.18},
   {"lat": 25.88, "r": 6052.47}, {"lat": 26.18, "r": 6052.31}, {"lat": 26.44, "r": 6052.08}, {"lat": 26.62, "r": 6051.89},
   {"lat": 26.92, "r": 6051.76}, {"lat": 27.15, "r": 6051.68}, {"lat": 27.6, "r": 6051.72}, {"lat": 28.04, "r": 6051.74},
   {"lat": 28.5, "r": 6051.68}, {"lat": 28.92, "r": 6051.63}, {"lat": 29.4, "r": 6051.78}, {"lat": 29.81, "r": 6051.9},
   {"lat": 30.15, "r": 6051.83}, {"lat": 30.47, "r": 6051.77}, {"lat": 30.8, "r": 6051.67}, {"lat": 31.13, "r": 6051.57},
   {"lat": 31.35, "r": 6051.43}, {"lat": 31.8, "r": 6051.35}, {"lat": 32.1, "r": 6051.32}, {"lat": 32.46, "r": 6051.29},
   {"lat": 32.8, "r": 6051.26}, {"lat": 33.12, "r": 6051.24}, {"lat": 33.68, "r": 6051.25}, {"lat": 32.96, "r": 6051.49},
   {"lat": 33.79, "r": 6051.43}, {"lat": 34.23, "r": 6051.53}, {"lat": 34.55, "r": 6051.52}, {"lat": 34.9, "r": 6051.52},
   {"lat": 35.2, "r": 6051.52}, {"lat": 35.56, "r": 6051.52}, {"lat": 36.0, "r": 6051.41}, {"lat": 36.44, "r": 6051.32},
   {"lat": 36.89, "r": 6051.52}, {"lat": 37.22, "r": 6051.52}, {"lat": 37.55, "r": 6051.32}, {"lat": 37.88, "r": 6051.16},
   {"lat": 38.22, "r": 6051.02}, {"lat": 38.55, "r": 6051.1}, {"lat": 38.66, "r": 6051.29}, {"lat": 39.1, "r": 6051.35},
   {"lat": 39.21, "r": 6051.49}, {"lat": 39.54, "r": 6050.88}, {"lat": 39.87, "r": 6050.79}, {"lat": 40.21, "r": 6050.85},
   {"lat": 40.65, "r": 6050.9}, {"lat": 41.09, "r": 6050.9}, {"lat": 41.65, "r": 6050.85}, {"lat": 41.98, "r": 6050.93},
   {"lat": 42.2, "r": 6050.68}, {"lat": 42.53, "r": 6050.6}, {"lat": 42.86, "r": 6050.54}, {"lat": 42.97, "r": 6050.82},
   {"lat": 43.08, "r": 6050.95}, {"lat": 43.53, "r": 6050.99}, {"lat": 43.97, "r": 6050.85}, {"lat": 44.41, "r": 6050.9},
   {"lat": 44.85, "r": 6050.93}, {"lat": 45.2, "r": 6050.95}, {"lat": 45.52, "r": 6050.96}, {"lat": 45.85, "r": 6050.97},
   {"lat": 46.18, "r": 6050.99}, {"lat": 46.62, "r": 6051.07}, {"lat": 46.85, "r": 6051.24}, {"lat": 47.07, "r": 6051.32},
   {"lat": 47.51, "r": 6051.41}, {"lat": 47.84, "r": 6051.07}, {"lat": 48.17, "r": 6050.99}, {"lat": 48.45, "r": 6050.99},
   {"lat": 48.73, "r": 6050.99}, {"lat": 49.06, "r": 6051.16}, {"lat": 49.28, "r": 6051.24}, {"lat": 49.72, "r": 6051.29},
   {"lat": 50.17, "r": 6051.43}, {"lat": 50.5, "r": 6051.57}, {"lat": 50.83, "r": 6051.63}, {"lat": 51.16, "r": 6051.54},
   {"lat": 51.49, "r": 6051.41}, {"lat": 51.94, "r": 6051.29}, {"lat": 52.38, "r": 6051.21}, {"lat": 52.82, "r": 6051.18},
   {"lat": 53.26, "r": 6051.27}, {"lat": 53.71, "r": 6051.35}, {"lat": 54.15, "r": 6051.43}, {"lat": 54.48, "r": 6051.46}
  ]
 },
 "layer": [
  {
   "data": {"name": "raw"},
   "mark": {"type": "circle", "size": 85, "color": "black", "opacity": 1},
   "encoding": {
    "x": {"field": "lat", "type": "quantitative", "scale": {"domain": [-90, 90], "nice": false, "zero": false},
     "axis": {"orient": "bottom", "values": [-90,-85,-80,-75,-70,-65,-60,-55,-50,-45,-40,-35,-30,-25,-20,-15,-10,-5,0,5,10,15,20,25,30,35,40,45,50,55,60,65,70,75,80,85,90],
      "domain": false, "grid": false, "tickColor": "black", "tickWidth": 4,
      "tickSize": {"condition": {"test": "datum.value % 30 === 0", "value": -112}, "value": -56},
      "labelExpr": "datum.value % 30 === 0 ? '' + datum.value : ''",
      "labelFontSize": 72, "labelFont": "DejaVu Sans", "labelColor": "black", "labelPadding": 136, "labelFlush": false, "labelOverlap": false, "labelLimit": 0,
      "title": "Latitude, deg", "titleFontSize": 72, "titleFont": "DejaVu Sans", "titleFontWeight": "normal", "titleColor": "black", "titlePadding": -49}},
    "y": {"field": "r", "type": "quantitative", "scale": {"domain": [6045, 6065], "nice": false, "zero": false},
     "axis": {"orient": "left", "values": [6045,6046,6047,6048,6049,6050,6051,6052,6053,6054,6055,6056,6057,6058,6059,6060,6061,6062,6063,6064,6065],
      "domain": false, "grid": false, "tickColor": "black", "tickWidth": 4,
      "tickSize": {"condition": {"test": "datum.value % 5 === 0", "value": -112}, "value": -56},
      "labelExpr": "datum.value % 5 === 0 ? '' + datum.value : ''",
      "labelFontSize": 72, "labelFont": "DejaVu Sans", "labelColor": "black", "labelPadding": 148, "labelFlush": false, "labelOverlap": false, "labelLimit": 0,
      "title": "Radius, km", "titleFontSize": 72, "titleFont": "DejaVu Sans", "titleFontWeight": "normal", "titleColor": "black", "titlePadding": 70}}
   }
  },
  {
   "data": {"name": "smooth"},
   "mark": {"type": "circle", "size": 95, "color": "#ff0000", "opacity": 1},
   "encoding": {
    "x": {"field": "lat", "type": "quantitative", "scale": {"domain": [-90, 90], "nice": false, "zero": false},
     "axis": {"orient": "top", "values": [-90,-85,-80,-75,-70,-65,-60,-55,-50,-45,-40,-35,-30,-25,-20,-15,-10,-5,0,5,10,15,20,25,30,35,40,45,50,55,60,65,70,75,80,85,90],
      "domain": false, "grid": false, "tickColor": "black", "tickWidth": 4,
      "tickSize": {"condition": {"test": "datum.value % 30 === 0", "value": -112}, "value": -56},
      "labels": false, "title": null}},
    "y": {"field": "r", "type": "quantitative", "scale": {"domain": [6045, 6065], "nice": false, "zero": false},
     "axis": {"orient": "right", "values": [6045,6046,6047,6048,6049,6050,6051,6052,6053,6054,6055,6056,6057,6058,6059,6060,6061,6062,6063,6064,6065],
      "domain": false, "grid": false, "tickColor": "black", "tickWidth": 4,
      "tickSize": {"condition": {"test": "datum.value % 5 === 0", "value": -112}, "value": -56},
      "labels": false, "title": null}}
   }
  }
 ],
 "resolve": {"axis": {"x": "independent", "y": "independent"}}
}
